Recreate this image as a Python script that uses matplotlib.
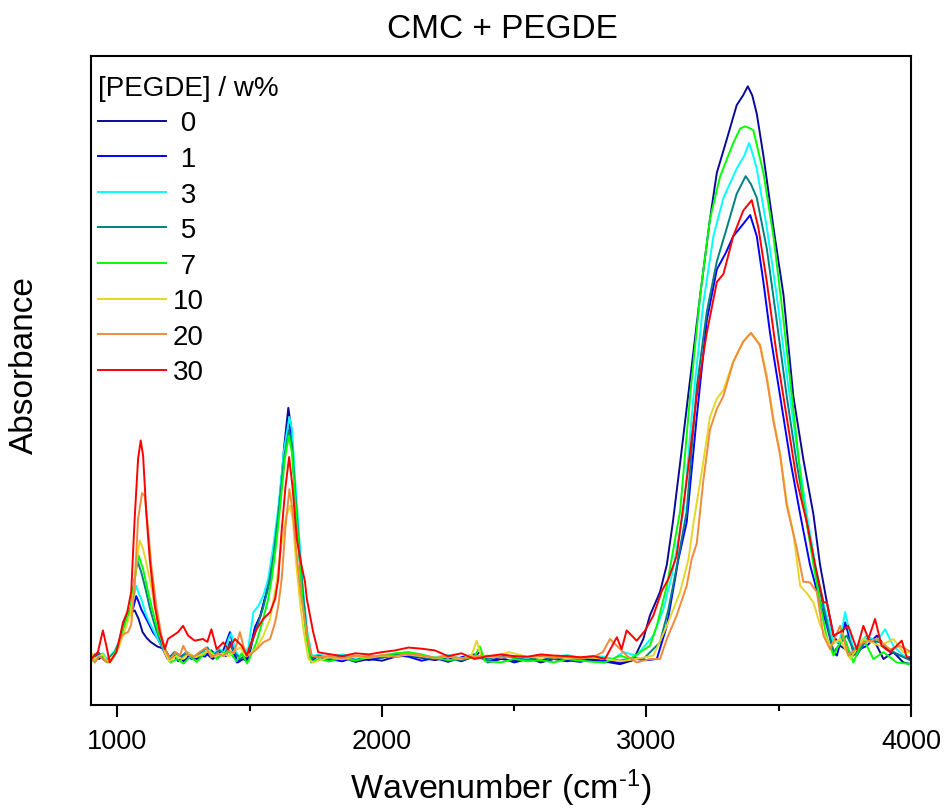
import matplotlib
matplotlib.use("Agg")
import matplotlib.pyplot as plt

plt.rcParams['font.family'] = ['Liberation Sans', 'DejaVu Sans']
plt.rcParams['mathtext.fontset'] = 'custom'
plt.rcParams['mathtext.rm'] = 'Liberation Sans'
plt.rcParams['mathtext.it'] = 'Liberation Sans'
plt.rcParams['mathtext.default'] = 'regular'

# ---------------- data ----------------
series_labels = ["0", "1", "3", "5", "7", "10", "20", "30"]
series_colors = ["#0A0A96", "#0000FF", "#00FFFF", "#008080", "#00FF00",
                 "#E6D62A", "#F28A3A", "#FF0000"]

wn_0 = [900, 915, 930, 945, 960, 975, 990, 1005, 1020, 1030, 1045, 1055, 1065, 1080, 1095, 1110, 1125, 1150, 1180,
        1200, 1225, 1250, 1275, 1300, 1330, 1360, 1390, 1410, 1425, 1440, 1455, 1475, 1490, 1505, 1520, 1540,
        1560, 1575, 1596, 1615, 1630, 1646, 1658, 1670, 1683, 1700, 1715, 1734, 1760, 1800, 1850, 1900, 1950,
        2000, 2050, 2100, 2150, 2200, 2250, 2300, 2350, 2370, 2400, 2450, 2500, 2550, 2600, 2650, 2700, 2750,
        2800, 2850, 2900, 2950, 2988, 3013, 3051, 3077, 3100, 3127, 3165, 3203, 3240, 3266, 3304, 3341, 3365,
        3383, 3400, 3417, 3442, 3480, 3518, 3555, 3593, 3631, 3656, 3682, 3707, 3732, 3760, 3782, 3820, 3858,
        3896, 3933, 3971, 4000]
ab_0 = [0.005, 0.0, 0.01, 0.0, -0.005, 0.005, 0.012, 0.025, 0.05, 0.07, 0.085, 0.082, 0.085, 0.07, 0.047, 0.037,
        0.03, 0.022, 0.017, 0.0, 0.01, -0.004, 0.006, 0.0, 0.012, 0.0, 0.012, 0.005, 0.03, 0.01, -0.006, 0.0,
        -0.004, 0.02, 0.055, 0.075, 0.11, 0.14, 0.198, 0.28, 0.37, 0.439, 0.40, 0.31, 0.22, 0.12, 0.05, 0.0,
        0.005, -0.004, 0.003, -0.005, 0.0, -0.003, 0.004, 0.006, 0.002, -0.002, 0.003, -0.004, 0.005, 0.012,
        -0.006, 0.0, -0.003, 0.002, -0.006, 0.0, -0.004, 0.002, -0.003, -0.005, -0.009, -0.002, 0.035, 0.076,
        0.117, 0.165, 0.24, 0.342, 0.489, 0.636, 0.769, 0.85, 0.909, 0.968, 0.985, 1.001, 0.985, 0.953, 0.88,
        0.754, 0.636, 0.46, 0.349, 0.253, 0.165, 0.099, 0.041, 0.023, 0.015, 0.006, 0.029, 0.035, 0.0, 0.012,
        -0.006, -0.009]

wn_1 = [900, 915, 930, 945, 960, 975, 990, 1005, 1020, 1035, 1050, 1060, 1071, 1080, 1090, 1100, 1109, 1120, 1134,
        1153, 1172, 1190, 1210, 1230, 1255, 1280, 1305, 1330, 1355, 1380, 1400, 1412, 1425, 1440, 1451, 1476,
        1490, 1505, 1520, 1540, 1560, 1577, 1596, 1615, 1632, 1647, 1658, 1670, 1683, 1700, 1715, 1734, 1760,
        1800, 1850, 1900, 1950, 2000, 2050, 2100, 2150, 2200, 2250, 2300, 2350, 2400, 2450, 2500, 2550, 2600,
        2650, 2700, 2750, 2800, 2850, 2900, 2963, 3000, 3039, 3077, 3121, 3152, 3190, 3228, 3266, 3300, 3328,
        3365, 3392, 3417, 3442, 3467, 3505, 3543, 3581, 3618, 3656, 3682, 3707, 3720, 3751, 3782, 3833, 3871,
        3908, 3959, 4000]
ab_1 = [0.0, 0.008, 0.0, 0.005, -0.004, 0.004, 0.01, 0.025, 0.055, 0.075, 0.08, 0.09, 0.11, 0.1, 0.087, 0.078,
        0.07, 0.06, 0.047, 0.035, 0.017, 0.0, 0.008, -0.004, 0.01, 0.0, 0.008, 0.004, 0.015, 0.002, 0.015, 0.03,
        0.047, 0.02, -0.006, 0.004, 0.0, 0.025, 0.055, 0.075, 0.11, 0.14, 0.2, 0.29, 0.37, 0.417, 0.39, 0.3,
        0.21, 0.11, 0.045, -0.003, 0.006, 0.0, -0.004, 0.004, -0.002, 0.003, 0.007, 0.004, -0.003, 0.002,
        -0.005, 0.003, 0.008, -0.004, 0.002, -0.006, 0.0, -0.003, 0.004, -0.002, -0.005, 0.0, -0.004, -0.006,
        0.0, -0.002, 0.0, 0.058, 0.175, 0.239, 0.423, 0.592, 0.681, 0.71, 0.739, 0.76, 0.776, 0.739, 0.659,
        0.57, 0.46, 0.349, 0.253, 0.165, 0.099, 0.058, 0.012, 0.006, 0.064, 0.012, 0.023, 0.041, 0.017, 0.006,
        0.0]

wn_3 = [900, 915, 930, 945, 960, 975, 990, 1005, 1020, 1035, 1050, 1062, 1071, 1080, 1090, 1100, 1109, 1120, 1134,
        1147, 1160, 1179, 1195, 1215, 1240, 1265, 1290, 1315, 1340, 1360, 1385, 1405, 1420, 1430, 1445, 1460,
        1480, 1495, 1514, 1533, 1551, 1570, 1590, 1610, 1628, 1650, 1660, 1672, 1686, 1702, 1717, 1735, 1760,
        1800, 1850, 1900, 1950, 2000, 2050, 2100, 2150, 2200, 2250, 2300, 2350, 2400, 2450, 2500, 2550, 2600,
        2650, 2700, 2750, 2800, 2840, 2875, 2913, 2963, 3026, 3064, 3096, 3140, 3178, 3215, 3253, 3291, 3341,
        3370, 3388, 3400, 3417, 3455, 3492, 3530, 3568, 3606, 3644, 3669, 3707, 3730, 3751, 3782, 3833, 3870,
        3902, 3933, 3971, 4000]
ab_3 = [0.008, 0.0, 0.006, 0.01, 0.0, 0.006, 0.015, 0.03, 0.055, 0.075, 0.085, 0.11, 0.128, 0.115, 0.105, 0.09,
        0.076, 0.065, 0.052, 0.04, 0.029, 0.012, 0.0, 0.01, 0.004, 0.012, 0.003, 0.01, 0.02, 0.008, 0.018,
        0.01, 0.035, 0.045, 0.015, 0.005, 0.01, 0.02, 0.082, 0.093, 0.11, 0.14, 0.2, 0.27, 0.36, 0.423, 0.4,
        0.31, 0.22, 0.12, 0.05, 0.005, 0.008, 0.003, 0.008, 0.002, 0.006, 0.004, 0.009, 0.01, 0.006, 0.003,
        0.007, 0.001, 0.006, 0.002, 0.008, 0.004, 0.001, 0.006, 0.003, 0.007, 0.002, 0.005, 0.004, 0.0, 0.012,
        0.006, 0.041, 0.087, 0.146, 0.258, 0.46, 0.622, 0.739, 0.806, 0.857, 0.88, 0.902, 0.885, 0.857, 0.754,
        0.636, 0.497, 0.372, 0.253, 0.15, 0.099, 0.029, 0.03, 0.082, 0.017, 0.041, 0.03, 0.052, 0.023, 0.006,
        0.003]

wn_5 = [900, 930, 945, 960, 975, 990, 1005, 1020, 1035, 1050, 1062, 1075, 1090, 1109, 1122, 1134, 1147, 1160,
        1179, 1195, 1215, 1240, 1265, 1290, 1315, 1340, 1360, 1385, 1405, 1425, 1445, 1465, 1490, 1510, 1530,
        1551, 1570, 1590, 1610, 1630, 1648, 1660, 1672, 1686, 1702, 1717, 1735, 1760, 1800, 1850, 1900, 1950,
        2000, 2050, 2100, 2150, 2200, 2250, 2300, 2350, 2400, 2450, 2500, 2550, 2600, 2650, 2700, 2750, 2800,
        2850, 2900, 2950, 2988, 3051, 3083, 3108, 3152, 3190, 3228, 3266, 3304, 3341, 3375, 3395, 3417, 3455,
        3492, 3530, 3568, 3606, 3644, 3669, 3707, 3757, 3795, 3833, 3883, 3933, 4000]
ab_5 = [0.003, 0.01, 0.005, -0.003, 0.005, 0.012, 0.028, 0.055, 0.075, 0.09, 0.13, 0.172, 0.152, 0.117, 0.09,
        0.07, 0.05, 0.035, 0.012, 0.002, 0.012, 0.005, 0.01, 0.004, 0.012, 0.02, 0.006, 0.015, 0.008, 0.025,
        0.01, 0.0, 0.005, 0.03, 0.06, 0.09, 0.125, 0.18, 0.26, 0.35, 0.40, 0.375, 0.29, 0.2, 0.11, 0.04, 0.0,
        0.006, 0.0, 0.005, -0.002, 0.004, 0.002, 0.008, 0.007, 0.003, 0.0, 0.005, -0.002, 0.004, 0.0, 0.006,
        0.002, -0.002, 0.004, 0.0, 0.003, -0.001, 0.004, 0.0, -0.003, 0.002, 0.0, 0.029, 0.087, 0.146, 0.258,
        0.475, 0.607, 0.695, 0.754, 0.813, 0.844, 0.83, 0.806, 0.717, 0.592, 0.46, 0.342, 0.239, 0.143, 0.091,
        0.012, 0.041, 0.006, 0.035, 0.029, 0.012, -0.003]

wn_7 = [900, 915, 930, 945, 960, 975, 990, 1005, 1020, 1035, 1050, 1065, 1080, 1097, 1116, 1130, 1141, 1155, 1166,
        1185, 1200, 1225, 1250, 1275, 1300, 1325, 1350, 1375, 1400, 1425, 1450, 1470, 1490, 1508, 1526, 1551,
        1570, 1583, 1600, 1618, 1633, 1648, 1660, 1672, 1686, 1700, 1715, 1732, 1760, 1800, 1850, 1900, 1950,
        2000, 2050, 2100, 2150, 2200, 2250, 2300, 2350, 2370, 2390, 2450, 2500, 2550, 2600, 2650, 2700, 2750,
        2800, 2843, 2901, 2938, 2976, 3013, 3039, 3077, 3127, 3165, 3203, 3240, 3278, 3328, 3354, 3373, 3390,
        3404, 3442, 3480, 3518, 3555, 3593, 3631, 3656, 3680, 3707, 3745, 3782, 3820, 3858, 3896, 3946, 4000]
ab_7 = [0.0, -0.005, 0.004, 0.006, -0.006, 0.0, 0.01, 0.025, 0.05, 0.07, 0.09, 0.14, 0.181, 0.157, 0.117, 0.09,
        0.07, 0.045, 0.035, 0.012, -0.006, 0.0, -0.008, 0.004, -0.005, 0.008, 0.015, 0.0, 0.01, 0.012, -0.004,
        0.01, -0.008, 0.01, 0.03, 0.07, 0.105, 0.14, 0.2, 0.28, 0.35, 0.39, 0.36, 0.28, 0.19, 0.1, 0.035,
        -0.006, 0.0, -0.004, 0.002, -0.003, 0.003, 0.006, 0.01, 0.012, 0.008, 0.002, -0.002, 0.0, 0.004, 0.022,
        -0.004, -0.006, 0.0, -0.004, -0.002, -0.006, 0.0, -0.003, -0.005, -0.006, 0.006, 0.0, 0.012, 0.023,
        0.058, 0.128, 0.258, 0.46, 0.636, 0.769, 0.843, 0.902, 0.927, 0.931, 0.928, 0.924, 0.85, 0.739, 0.592,
        0.437, 0.275, 0.165, 0.099, 0.04, 0.006, 0.041, -0.006, 0.035, 0.0, 0.012, -0.006, -0.009]

wn_10 = [900, 915, 930, 945, 960, 975, 990, 1005, 1020, 1035, 1050, 1062, 1072, 1084, 1095, 1103, 1122, 1141, 1160,
         1179, 1195, 1220, 1245, 1270, 1295, 1320, 1345, 1370, 1395, 1420, 1445, 1465, 1485, 1505, 1526, 1551,
         1577, 1600, 1620, 1638, 1653, 1664, 1675, 1690, 1705, 1722, 1740, 1800, 1850, 1900, 1950, 2000, 2050,
         2100, 2150, 2200, 2250, 2300, 2340, 2358, 2375, 2420, 2480, 2550, 2600, 2650, 2700, 2750, 2800, 2850,
         2900, 2960, 3026, 3077, 3127, 3159, 3178, 3210, 3240, 3266, 3291, 3328, 3366, 3395, 3429, 3455, 3480,
         3505, 3530, 3555, 3581, 3606, 3631, 3656, 3694, 3732, 3770, 3820, 3883, 3933, 3971, 4000]
ab_10 = [0.012, 0.0, 0.005, 0.008, -0.004, 0.002, 0.008, 0.02, 0.04, 0.06, 0.08, 0.12, 0.17, 0.207, 0.195, 0.181,
         0.14, 0.093, 0.047, 0.012, -0.004, 0.005, 0.0, 0.01, 0.003, 0.008, 0.015, 0.004, 0.01, 0.005, 0.015,
         0.02, 0.005, 0.01, 0.02, 0.04, 0.07, 0.13, 0.2, 0.25, 0.268, 0.24, 0.17, 0.1, 0.045, 0.0, -0.006,
         0.003, 0.0, 0.004, 0.002, 0.006, 0.004, 0.008, 0.005, 0.002, 0.004, 0.0, 0.008, 0.032, 0.005, 0.003,
         0.012, 0.004, 0.002, 0.005, 0.001, 0.004, 0.002, 0.0, -0.004, 0.0, 0.006, 0.058, 0.117, 0.175, 0.239,
         0.33, 0.423, 0.455, 0.47, 0.52, 0.555, 0.57, 0.55, 0.495, 0.42, 0.36, 0.275, 0.22, 0.128, 0.115, 0.099,
         0.06, 0.023, 0.035, 0.0, 0.035, 0.023, 0.035, 0.012, 0.012]

wn_20 = [900, 915, 930, 945, 964, 980, 996, 1015, 1030, 1040, 1052, 1065, 1078, 1093, 1103, 1116, 1128, 1147, 1166,
         1185, 1200, 1220, 1236, 1249, 1265, 1290, 1310, 1335, 1355, 1380, 1400, 1420, 1440, 1463, 1476, 1490,
         1508, 1526, 1551, 1577, 1596, 1608, 1621, 1635, 1650, 1662, 1678, 1693, 1709, 1722, 1734, 1760, 1800,
         1850, 1900, 1950, 2000, 2050, 2100, 2150, 2200, 2250, 2300, 2350, 2400, 2450, 2500, 2550, 2600, 2650,
         2700, 2750, 2800, 2835, 2862, 2888, 2925, 2963, 3013, 3051, 3077, 3114, 3152, 3171, 3190, 3215, 3240,
         3266, 3291, 3328, 3366, 3395, 3429, 3455, 3480, 3505, 3530, 3568, 3593, 3618, 3644, 3669, 3694, 3732,
         3763, 3820, 3871, 3921, 3959, 4000]
ab_20 = [0.0, -0.006, 0.005, 0.0, -0.006, 0.0, 0.012, 0.041, 0.045, 0.047, 0.06, 0.128, 0.245, 0.29, 0.285,
         0.227, 0.163, 0.093, 0.041, 0.012, 0.0, 0.012, 0.006, 0.023, 0.008, 0.004, 0.012, 0.02, 0.003, 0.01,
         0.005, 0.015, 0.01, 0.047, 0.023, 0.005, 0.01, 0.017, 0.029, 0.035, 0.064, 0.093, 0.14, 0.23, 0.297,
         0.26, 0.18, 0.115, 0.065, 0.03, 0.006, 0.003, 0.005, 0.001, 0.006, 0.003, 0.007, 0.005, 0.009, 0.006,
         0.002, 0.005, 0.001, 0.004, 0.006, 0.002, 0.005, 0.003, 0.006, 0.002, 0.004, 0.001, 0.004, 0.012,
         0.035, 0.023, 0.006, -0.006, 0.0, 0.0, 0.035, 0.076, 0.128, 0.175, 0.202, 0.312, 0.401, 0.437, 0.46,
         0.519, 0.555, 0.57, 0.548, 0.489, 0.415, 0.357, 0.268, 0.194, 0.135, 0.134, 0.117, 0.041, 0.017, 0.058,
         0.006, 0.029, 0.035, 0.017, 0.023, 0.012]

wn_30 = [900, 926, 945, 958, 971, 996, 1010, 1021, 1037, 1052, 1065, 1078, 1088, 1097, 1109, 1122, 1141, 1160, 1179,
         1191, 1210, 1229, 1248, 1267, 1292, 1323, 1340, 1355, 1375, 1400, 1419, 1444, 1470, 1489, 1501, 1526,
         1551, 1577, 1596, 1608, 1620, 1635, 1649, 1662, 1678, 1693, 1709, 1716, 1740, 1759, 1780, 1850, 1900,
         1950, 2000, 2050, 2100, 2150, 2200, 2250, 2300, 2350, 2400, 2450, 2500, 2550, 2600, 2650, 2700, 2750,
         2800, 2843, 2888, 2906, 2925, 2963, 2995, 3026, 3058, 3083, 3114, 3152, 3190, 3228, 3266, 3291, 3328,
         3366, 3398, 3423, 3455, 3492, 3530, 3568, 3606, 3637, 3669, 3682, 3707, 3732, 3763, 3795, 3820, 3839,
         3864, 3889, 3921, 3965, 3984, 4000]
ab_30 = [0.0, 0.012, 0.05, 0.023, -0.006, 0.012, 0.04, 0.064, 0.082, 0.117, 0.245, 0.35, 0.382, 0.355, 0.256,
         0.175, 0.093, 0.047, 0.017, 0.035, 0.041, 0.047, 0.058, 0.041, 0.032, 0.035, 0.03, 0.052, 0.017, 0.029,
         0.017, 0.035, 0.023, 0.006, 0.023, 0.052, 0.07, 0.082, 0.105, 0.14, 0.22, 0.3, 0.353, 0.3, 0.21, 0.17,
         0.135, 0.105, 0.047, 0.012, 0.01, 0.005, 0.01, 0.008, 0.012, 0.015, 0.02, 0.018, 0.015, 0.005, 0.01,
         0.0, 0.005, 0.008, 0.005, 0.004, 0.008, 0.006, 0.005, 0.003, 0.005, 0.0, 0.038, 0.017, 0.05, 0.032,
         0.05, 0.076, 0.119, 0.14, 0.18, 0.312, 0.46, 0.57, 0.659, 0.673, 0.739, 0.784, 0.802, 0.754, 0.659,
         0.533, 0.423, 0.312, 0.239, 0.165, 0.099, 0.099, 0.041, 0.047, 0.058, 0.017, 0.058, 0.035, 0.07,
         0.023, 0.012, 0.032, 0.003, 0.003]

x_ticks = [1000, 2000, 3000, 4000]
x_minor = [1500, 2500, 3500]

# ---------------- figure ----------------
W, H = 945, 812
fig = plt.figure(figsize=(W / 100, H / 100), dpi=100)
ax = fig.add_axes([91 / W, (H - 706) / H, 820 / W, 649 / H])

all_wn = [wn_0, wn_1, wn_3, wn_5, wn_7, wn_10, wn_20, wn_30]
all_ab = [ab_0, ab_1, ab_3, ab_5, ab_7, ab_10, ab_20, ab_30]
for wn, ab, lab, col in zip(all_wn, all_ab, series_labels, series_colors):
    disp = lab if len(lab) > 1 else " " + lab
    ax.plot(wn, ab, color=col, lw=1.4, label=disp)

ax.set_xlim(900, 4000)
ax.set_ylim(-0.0804, 1.054)
ax.set_xticks(x_ticks)
ax.set_xticks(x_minor, minor=True)
ax.set_yticks([])
ax.tick_params(axis='x', which='major', direction='out', length=8.6, width=1.5,
               labelsize=19.5, pad=8)
ax.tick_params(axis='x', which='minor', direction='out', length=4.3, width=1.5)
for sp in ax.spines.values():
    sp.set_linewidth(1.5)

ax.set_xlabel("Wavenumber (cm$^{\\text{-}1}$)", fontsize=24.5, labelpad=9)
fig.text(24 / W, 1 - 365 / H, "Absorbance", rotation=90, ha='center', va='center', fontsize=24)
fig.text(502 / W, 1 - 30 / H, "CMC + PEGDE", ha='center', va='center', fontsize=24)

leg = ax.legend(loc='upper left', bbox_to_anchor=(7 / 820, 0.971), frameon=False,
                title="[PEGDE] / w%", title_fontsize=20, fontsize=20,
                handlelength=2.45, handletextpad=0.25, labelspacing=0.345,
                borderpad=0, borderaxespad=0, alignment='left')
for line in leg.get_lines():
    line.set_linewidth(1.4)

fig.savefig("out.png", dpi=100)
